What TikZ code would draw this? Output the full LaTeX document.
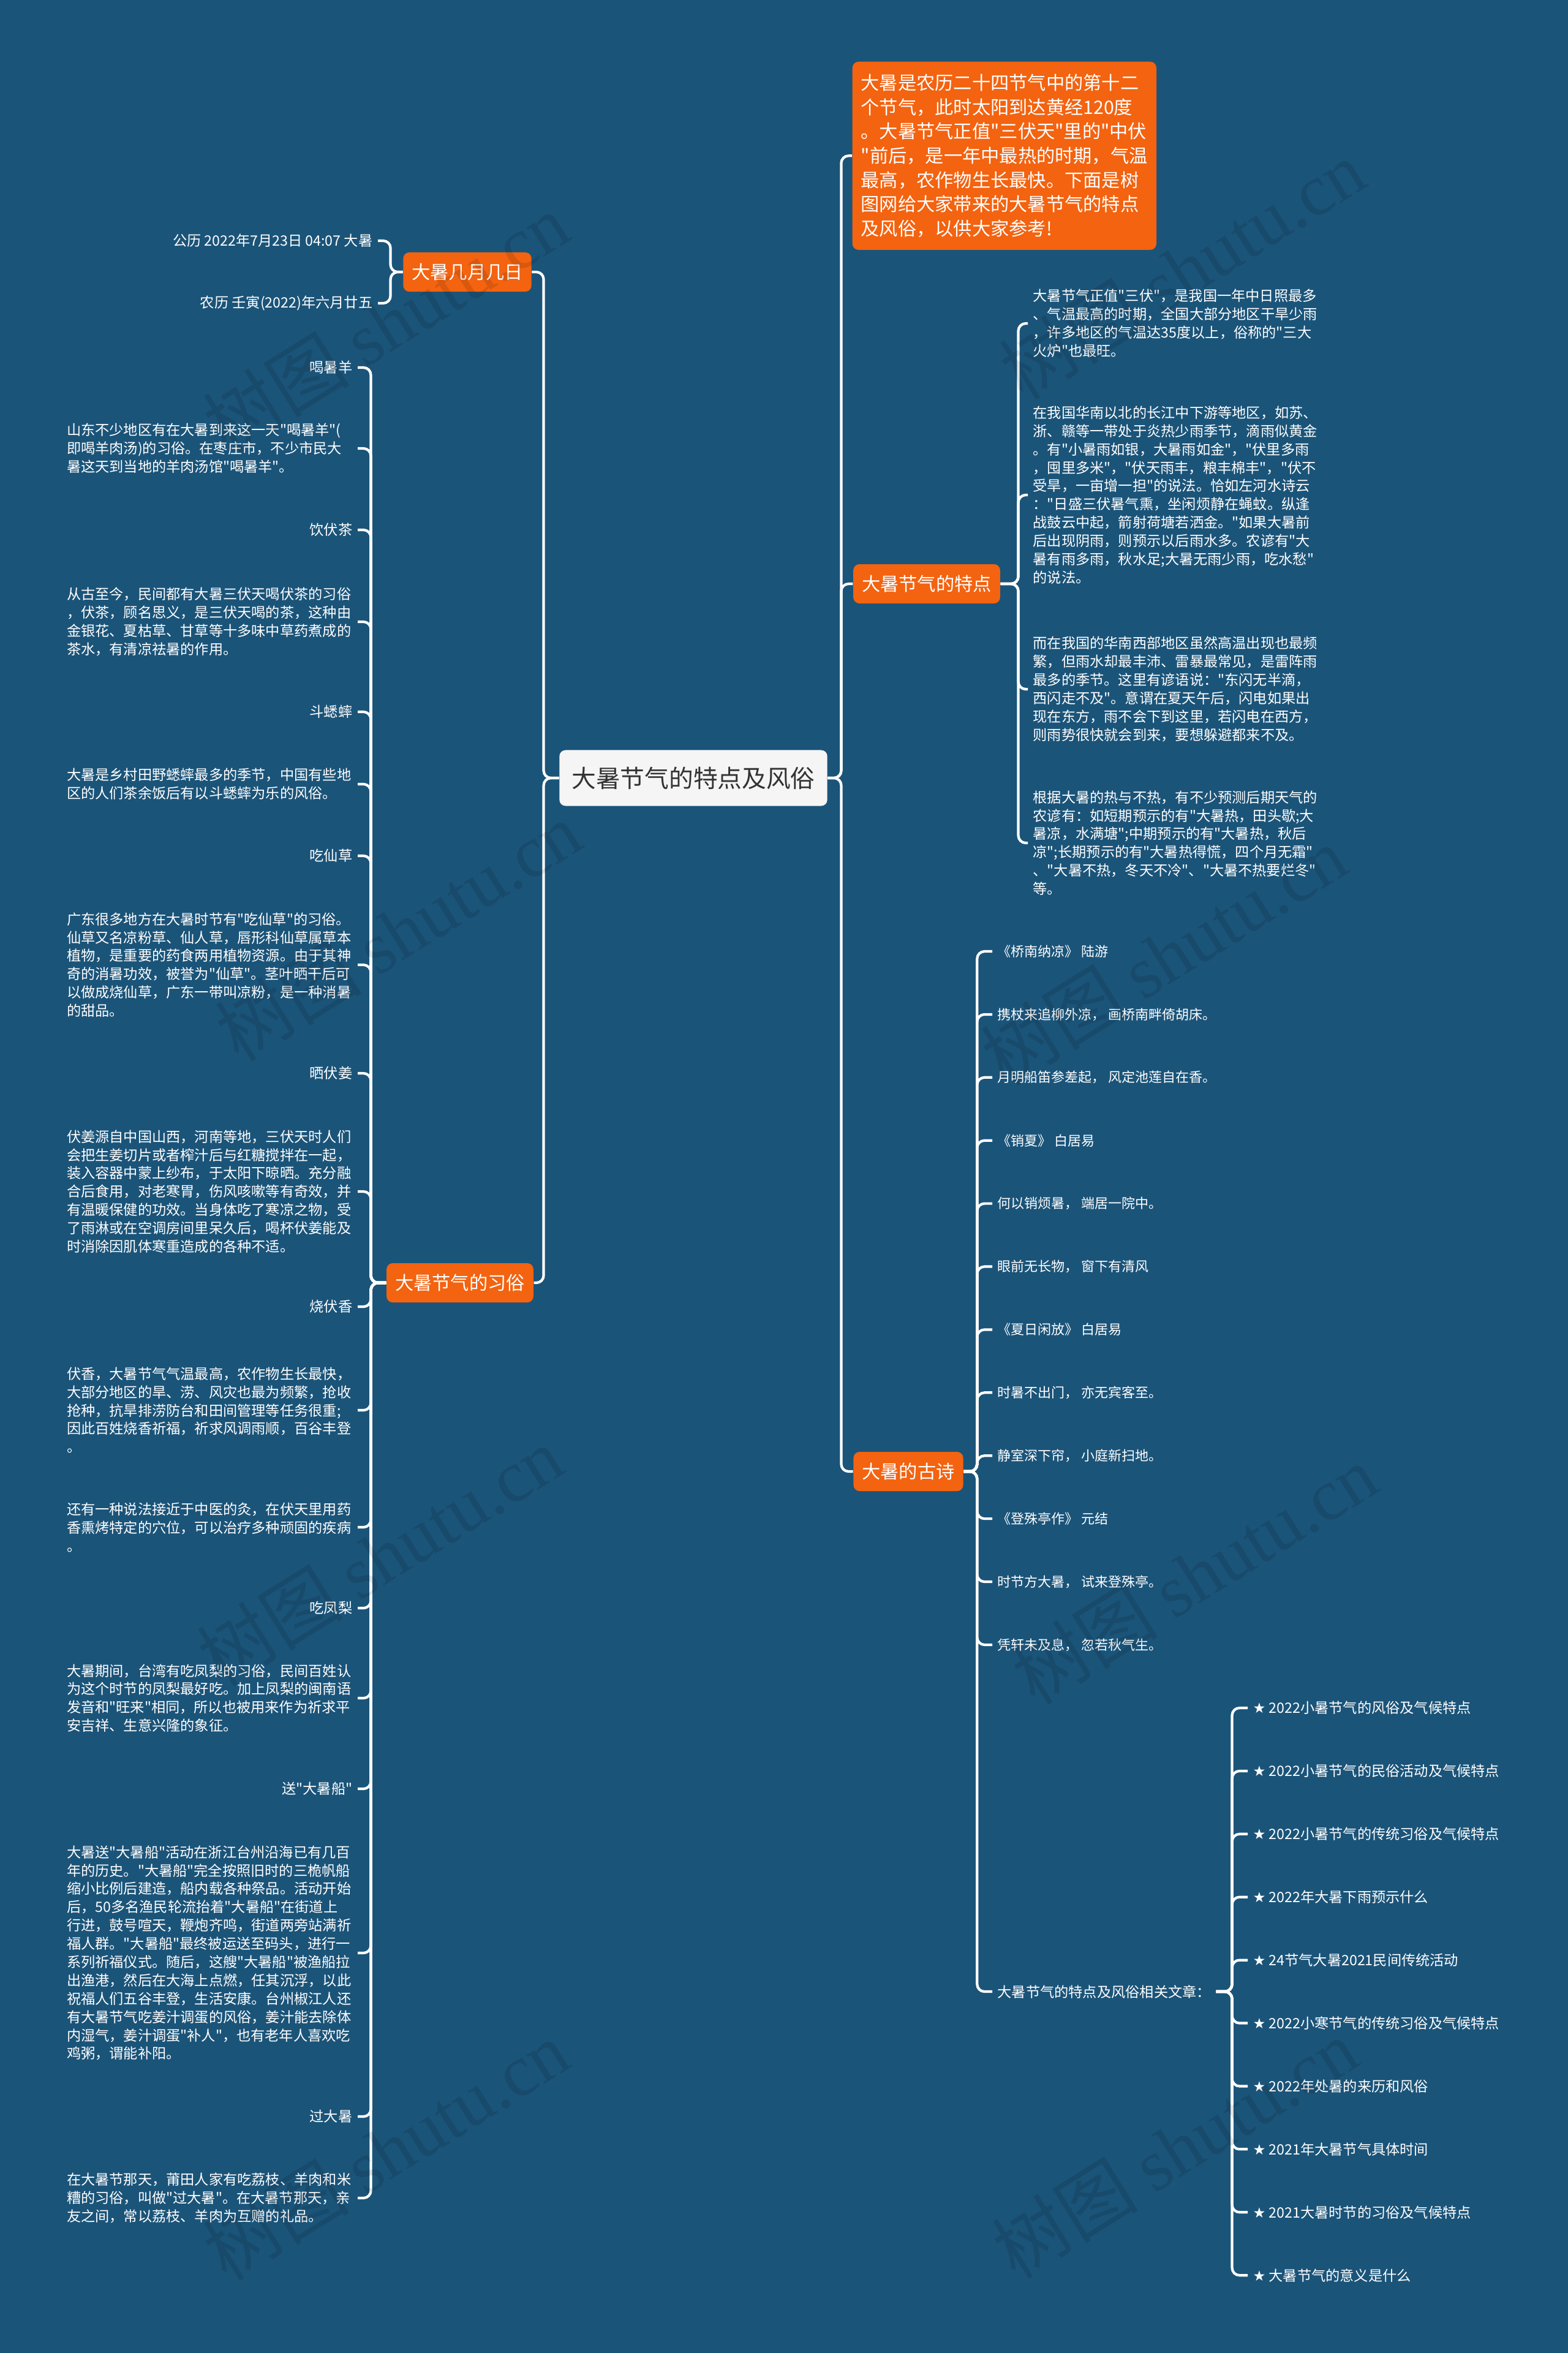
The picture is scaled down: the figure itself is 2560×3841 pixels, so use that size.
\documentclass[tikz,border=0pt]{standalone}
\usepackage{fontspec}
\newfontfamily\cjk{Noto Sans CJK SC}
\newfontfamily\symfont{DejaVu Sans}
\newfontfamily\wmfont{Liberation Serif}
\usepackage{xcolor}
\definecolor{bgblue}{RGB}{27,84,121}
\definecolor{mmorange}{RGB}{243,99,16}
\definecolor{rootgray}{RGB}{245,245,245}
\definecolor{textgray}{RGB}{51,51,51}

\begin{document}
\begin{tikzpicture}[x=0.01cm,y=-0.01cm,
    link/.style={draw=white,line width=1.2pt,rounded corners=0.12cm},
    root/.style={fill=rootgray,text=textgray,rounded corners=0.1cm,inner xsep=0.2cm,inner ysep=0pt,minimum height=0.91cm,font=\cjk\fontsize{11.3pt}{13pt}\selectfont},
    topic/.style={fill=mmorange,text=white,rounded corners=0.1cm,inner xsep=0.14cm,inner ysep=0pt,minimum height=0.64cm,font=\cjk\fontsize{8.6pt}{11.27pt}\selectfont},
    leaf/.style={text=white,inner sep=0.08cm,font=\cjk\fontsize{6.6pt}{8.5pt}\selectfont},
    block/.style={leaf,text width=4.66cm,align=left},
    verse/.style={text=white,inner sep=0.08cm,font=\cjk\fontsize{6.26pt}{8pt}\selectfont},
    wmark/.style={text=black,opacity=0.11,rotate=32,font=\cjk\fontsize{34pt}{36pt}\selectfont}]
    \useasboundingbox (0,0) rectangle (2560,3841);
    \fill[bgblue] (0,0) rectangle (2560,3841);

    % centre and main topics
    \node[root] (root) at (1132,1270) {大暑节气的特点及风俗};
    \node[topic,anchor=north west,text width=4.68cm,align=left,inner ysep=0.15cm,minimum height=3.07cm] (intro) at (1391,100) {大暑是农历二十四节气中的第十二\\个节气，此时太阳到达黄经120度\\。大暑节气正值"三伏天"里的"中伏\\"前后，是一年中最热的时期，气温\\最高，农作物生长最快。下面是树\\图网给大家带来的大暑节气的特点\\及风俗，以供大家参考!};
    \node[topic] (trait) at (1513,953) {大暑节气的特点};
    \node[topic] (poem) at (1483,2402) {大暑的古诗};
    \node[topic] (date) at (763,444) {大暑几月几日};
    \node[topic] (custom) at (751,2094) {大暑节气的习俗};

    \draw[link] (root.east) -- ++(22,0) |- (intro.west);
    \draw[link] (root.east) -- ++(22,0) |- (trait.west);
    \draw[link] (root.east) -- ++(22,0) |- (poem.west);
    \draw[link] (root.west) -- ++(-25,0) |- (date.east);
    \draw[link] (root.west) -- ++(-25,0) |- (custom.east);

    % date
    \node[leaf,anchor=east] (d1) at (617,393) {公历 2022年7月23日 04:07 大暑};
    \node[leaf,anchor=east] (d2) at (617,495) {农历 壬寅(2022)年六月廿五};
    \foreach \n in {d1,d2}
        \draw[link] (date.west) -- ++(-20,0) |- (\n.east);

    % customs
    \node[leaf,anchor=east] (c1) at (584,600) {喝暑羊};
    \node[block,anchor=east] (c2) at (584,732) {山东不少地区有在大暑到来这一天"喝暑羊"(\\即喝羊肉汤)的习俗。在枣庄市，不少市民大\\暑这天到当地的羊肉汤馆"喝暑羊"。};
    \node[leaf,anchor=east] (c3) at (584,865) {饮伏茶};
    \node[block,anchor=east] (c4) at (584,1015) {从古至今，民间都有大暑三伏天喝伏茶的习俗\\，伏茶，顾名思义，是三伏天喝的茶，这种由\\金银花、夏枯草、甘草等十多味中草药煮成的\\茶水，有清凉祛暑的作用。};
    \node[leaf,anchor=east] (c5) at (584,1162) {斗蟋蟀};
    \node[block,anchor=east] (c6) at (584,1280) {大暑是乡村田野蟋蟀最多的季节，中国有些地\\区的人们茶余饭后有以斗蟋蟀为乐的风俗。};
    \node[leaf,anchor=east] (c7) at (584,1397) {吃仙草};
    \node[block,anchor=east] (c8) at (584,1575) {广东很多地方在大暑时节有"吃仙草"的习俗。\\仙草又名凉粉草、仙人草，唇形科仙草属草本\\植物，是重要的药食两用植物资源。由于其神\\奇的消暑功效，被誉为"仙草"。茎叶晒干后可\\以做成烧仙草，广东一带叫凉粉，是一种消暑\\的甜品。};
    \node[leaf,anchor=east] (c9) at (584,1752) {晒伏姜};
    \node[block,anchor=east] (c10) at (584,1945) {伏姜源自中国山西，河南等地，三伏天时人们\\会把生姜切片或者榨汁后与红糖搅拌在一起，\\装入容器中蒙上纱布，于太阳下晾晒。充分融\\合后食用，对老寒胃，伤风咳嗽等有奇效，并\\有温暖保健的功效。当身体吃了寒凉之物，受\\了雨淋或在空调房间里呆久后，喝杯伏姜能及\\时消除因肌体寒重造成的各种不适。};
    \node[leaf,anchor=east] (c11) at (584,2133) {烧伏香};
    \node[block,anchor=east] (c12) at (584,2302) {伏香，大暑节气气温最高，农作物生长最快，\\大部分地区的旱、涝、风灾也最为频繁，抢收\\抢种，抗旱排涝防台和田间管理等任务很重;\\因此百姓烧香祈福，祈求风调雨顺，百谷丰登\\。};
    \node[block,anchor=east] (c13) at (584,2493) {还有一种说法接近于中医的灸，在伏天里用药\\香熏烤特定的穴位，可以治疗多种顽固的疾病\\。};
    \node[leaf,anchor=east] (c14) at (584,2625) {吃凤梨};
    \node[block,anchor=east] (c15) at (584,2772) {大暑期间，台湾有吃凤梨的习俗，民间百姓认\\为这个时节的凤梨最好吃。加上凤梨的闽南语\\发音和"旺来"相同，所以也被用来作为祈求平\\安吉祥、生意兴隆的象征。};
    \node[leaf,anchor=east] (c16) at (584,2920) {送"大暑船"};
    \node[block,anchor=east] (c17) at (584,3188) {大暑送"大暑船"活动在浙江台州沿海已有几百\\年的历史。"大暑船"完全按照旧时的三桅帆船\\缩小比例后建造，船内载各种祭品。活动开始\\后，50多名渔民轮流抬着"大暑船"在街道上\\行进，鼓号喧天，鞭炮齐鸣，街道两旁站满祈\\福人群。"大暑船"最终被运送至码头，进行一\\系列祈福仪式。随后，这艘"大暑船"被渔船拉\\出渔港，然后在大海上点燃，任其沉浮，以此\\祝福人们五谷丰登，生活安康。台州椒江人还\\有大暑节气吃姜汁调蛋的风俗，姜汁能去除体\\内湿气，姜汁调蛋"补人"，也有老年人喜欢吃\\鸡粥，谓能补阳。};
    \node[leaf,anchor=east] (c18) at (584,3455) {过大暑};
    \node[block,anchor=east] (c19) at (584,3588) {在大暑节那天，莆田人家有吃荔枝、羊肉和米\\糟的习俗，叫做"过大暑"。在大暑节那天，亲\\友之间，常以荔枝、羊肉为互赠的礼品。};
    \foreach \i in {1,...,19}
        \draw[link] (custom.west) -- ++(-25,0) |- (c\i.east);

    % traits
    \node[block,anchor=west] (t1) at (1678,528) {大暑节气正值"三伏"，是我国一年中日照最多\\、气温最高的时期，全国大部分地区干旱少雨\\，许多地区的气温达35度以上，俗称的"三大\\火炉"也最旺。};
    \node[block,anchor=west] (t2) at (1678,808) {在我国华南以北的长江中下游等地区，如苏、\\浙、赣等一带处于炎热少雨季节，滴雨似黄金\\。有"小暑雨如银，大暑雨如金"，"伏里多雨\\，囤里多米"，"伏天雨丰，粮丰棉丰"，"伏不\\受旱，一亩增一担"的说法。恰如左河水诗云\\："日盛三伏暑气熏，坐闲烦静在蝇蚊。纵逢\\战鼓云中起，箭射荷塘若洒金。"如果大暑前\\后出现阴雨，则预示以后雨水多。农谚有"大\\暑有雨多雨，秋水足;大暑无雨少雨，吃水愁"\\的说法。};
    \node[block,anchor=west] (t3) at (1678,1125) {而在我国的华南西部地区虽然高温出现也最频\\繁，但雨水却最丰沛、雷暴最常见，是雷阵雨\\最多的季节。这里有谚语说："东闪无半滴，\\西闪走不及"。意谓在夏天午后，闪电如果出\\现在东方，雨不会下到这里，若闪电在西方，\\则雨势很快就会到来，要想躲避都来不及。};
    \node[block,anchor=west] (t4) at (1678,1376) {根据大暑的热与不热，有不少预测后期天气的\\农谚有：如短期预示的有"大暑热，田头歇;大\\暑凉，水满塘";中期预示的有"大暑热，秋后\\凉";长期预示的有"大暑热得慌，四个月无霜"\\、"大暑不热，冬天不冷"、"大暑不热要烂冬"\\等。};
    \foreach \i in {1,...,4}
        \draw[link] (trait.east) -- ++(29,0) |- (t\i.west);

    % poems
    \foreach \t [count=\i] in {《桥南纳凉》 陆游, 携杖来追柳外凉， 画桥南畔倚胡床。, 月明船笛参差起， 风定池莲自在香。, 《销夏》 白居易, 何以销烦暑， 端居一院中。, 眼前无长物， 窗下有清风, 《夏日闲放》 白居易, 时暑不出门， 亦无宾客至。, 静室深下帘， 小庭新扫地。, 《登殊亭作》 元结, 时节方大暑， 试来登殊亭。, 凭轩未及息， 忽若秋气生。}{
        \node[verse,anchor=west] (p\i) at (1620,{1553+102.9*(\i-1)}) {\t};
        \draw[link] (poem.east) -- ++(22,0) |- (p\i.west);
    }
    \node[leaf,anchor=west] (rel) at (1620,3251) {大暑节气的特点及风俗相关文章：};
    \draw[link] (poem.east) -- ++(22,0) |- (rel.west);

    % related articles
    \foreach \t [count=\i] in {2022小暑节气的风俗及气候特点, 2022小暑节气的民俗活动及气候特点, 2022小暑节气的传统习俗及气候特点, 2022年大暑下雨预示什么, 24节气大暑2021民间传统活动, 2022小寒节气的传统习俗及气候特点, 2022年处暑的来历和风俗, 2021年大暑节气具体时间, 2021大暑时节的习俗及气候特点, 大暑节气的意义是什么}{
        \node[leaf,anchor=west] (r\i) at (2037,{2788+102.9*(\i-1)}) {{\symfont ★} \t};
        \draw[link] (rel.east) -- ++(26,0) |- (r\i.west);
    }

    % watermarks
    \foreach \x/\y [count=\i] in {630/527, 650/1520, 620/2540, 630/3510, 1930/440, 1900/1560, 1950/2570, 1918/3507}
        \node[wmark] (w\i) at (\x,\y) {树图 {\wmfont shutu.cn}};
\end{tikzpicture}
\end{document}
